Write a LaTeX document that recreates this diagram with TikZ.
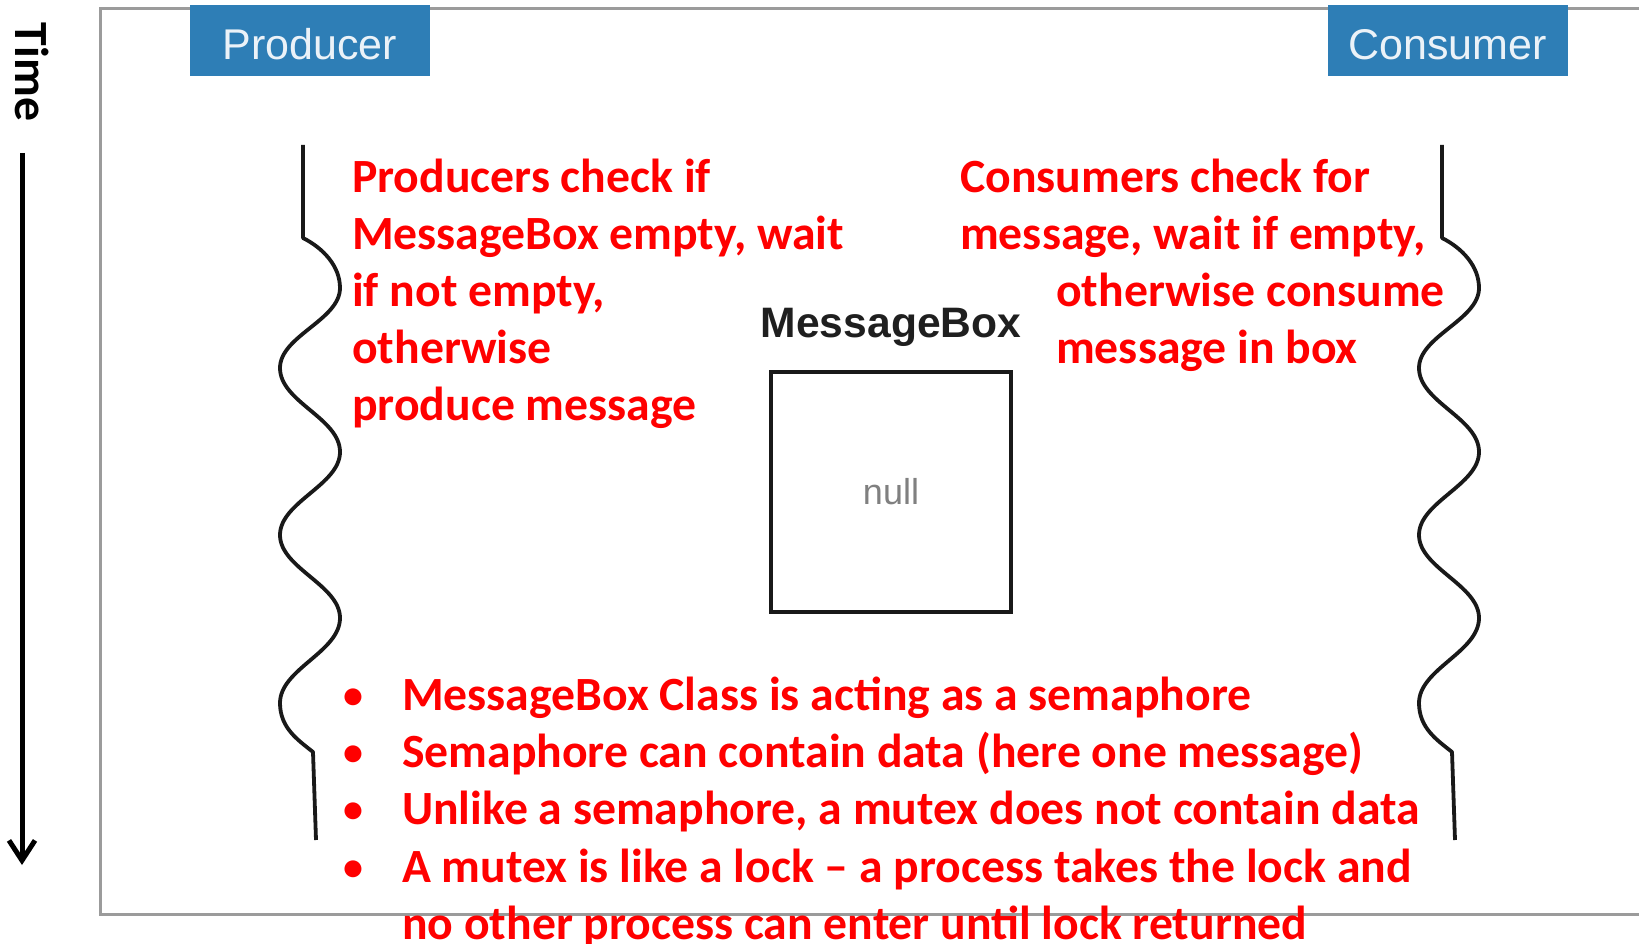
\documentclass[tikz,border=0pt]{standalone}
\usepackage{fontspec}
\setmainfont{Carlito}
\newfontfamily\helv{Liberation Sans}
\usetikzlibrary{arrows.meta}
\definecolor{boxblue}{RGB}{46,126,182}
\definecolor{framegray}{RGB}{155,155,155}
\definecolor{redtxt}{RGB}{255,0,0}
\definecolor{labwhite}{RGB}{235,242,248}
\begin{document}
\begin{tikzpicture}[x=1pt,y=-1pt,
  redline/.style={anchor=base west, inner sep=0pt, text=redtxt, font=\fontsize{47.7}{56}\selectfont\bfseries},
  bulletdot/.style={anchor=base, inner sep=0pt, text=redtxt, font=\fontsize{40}{48}\selectfont\bfseries},
  rolebox/.style={fill=boxblue, draw=none, minimum width=240pt, minimum height=71pt, inner sep=0pt,
    text=labwhite, font=\helv\fontsize{43}{50}\selectfont, text height=39pt, text depth=0pt},
  wave/.style={draw=black!90, line width=3.8pt, line join=round},
  framestyle/.style={draw=framegray, line width=3pt},
  timearrow/.style={line width=5pt, -{Straight Barb[length=20pt,width=26pt,line width=5pt]}}]
\useasboundingbox (0,0) rectangle (1639,944);
\clip (0,0) rectangle (1639,944);
\fill[white] (0,0) rectangle (1639,944);

% frame
\draw[framestyle] (1700,9) -- (100,9) -- (100,914) -- (1700,914);

% role boxes
\node[rolebox] (prod) at (310,40.5) {Producer};
\node[rolebox] (cons) at (1447.5,40.5) {Consumer};

% time axis
\node[inner sep=0pt, rotate=-90, font=\fontsize{47.7}{56}\selectfont\bfseries] (time) at (32,72) {Time};
\coordinate (tstart) at (22,153);
\coordinate (tend) at (22,865);
\draw[timearrow] (tstart) -- (tend);

% wavy timelines
\foreach \dx in {0, 1139}{
\begin{scope}[xshift=\dx pt]
\draw[wave] (303,145) -- (303,238) .. controls (323,248) and (340,266) .. (340,288)
 .. controls (340,320) and (280,336) .. (280,368)
 .. controls (280,402) and (340,418) .. (340,452)
 .. controls (340,485) and (280,502) .. (280,535)
 .. controls (280,568) and (340,585) .. (340,618)
 .. controls (340,652) and (280,669) .. (280,703)
 .. controls (280,728) and (298,740) .. (313,752) -- (316,840);
\end{scope}
}

% MessageBox
\node[anchor=base, inner sep=0pt, text=black!88, font=\helv\bfseries\fontsize{42.6}{50}\selectfont] (mbtitle) at (891,337) {MessageBox};
\node[draw=black!90, line width=4pt, minimum width=240pt, minimum height=240pt, inner sep=0pt,
  text=black!50, font=\helv\fontsize{36}{42}\selectfont] (mbox) at (891,492) {null};

% producer text
\node[redline] (p1) at (352,193) {Producers check if};
\node[redline] (p2) at (352,249.75) {MessageBox empty, wait};
\node[redline] (p3) at (352,306.5) {if not empty,};
\node[redline] (p4) at (352,363.25) {otherwise};
\node[redline] (p5) at (352,420) {produce message};

% consumer text
\node[redline] (c1) at (960,193) {Consumers check for};
\node[redline] (c2) at (960,249.75) {message, wait if empty,};
\node[redline] (c3) at (1056,306.5) {otherwise consume};
\node[redline] (c4) at (1056,363.25) {message in box};

% bullets
\node[bulletdot] (d1) at (353,708) {•};
\node[bulletdot] (d2) at (353,765) {•};
\node[bulletdot] (d3) at (353,822) {•};
\node[bulletdot] (d4) at (353,880) {•};
\node[redline] (b1) at (402,710) {MessageBox Class is acting as a semaphore};
\node[redline] (b2) at (402,767) {Semaphore can contain data (here one message)};
\node[redline] (b3) at (402,824) {Unlike a semaphore, a mutex does not contain data};
\node[redline] (b4) at (402,882) {A mutex is like a lock – a process takes the lock and};
\node[redline] (b5) at (402,939) {no other process can enter until lock returned};
\end{tikzpicture}
\end{document}
